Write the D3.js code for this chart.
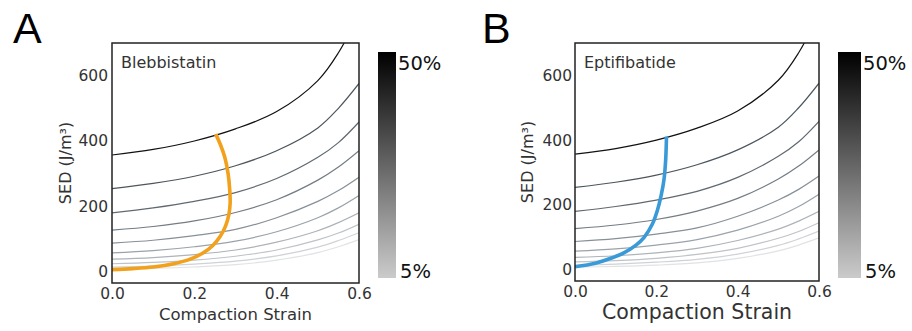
<!DOCTYPE html>
<html>
<head>
<meta charset="utf-8">
<script src="https://cdn.jsdelivr.net/npm/d3@7"></script>
<style>
  body { margin: 0; background: #fff; }
  svg text { font-family: "DejaVu Sans", sans-serif; }
</style>
</head>
<body>
<div id="chart"></div>
<script>
// strain grid shared by the background curves
const strains = [0, 0.1, 0.2, 0.3, 0.4, 0.5, 0.55, 0.6];

// fraction (%) for each background curve
const fractions = [5, 10, 15, 20, 25, 30, 35, 40, 45, 50];

// SED (J/m^3) of each background curve at the strains above
const sed05 = [8, 10, 14, 21, 35, 58, 76, 98];
const sed10 = [14, 17, 23, 32, 48, 75, 95, 119];
const sed15 = [24, 28, 35, 47, 66, 97, 118, 145];
const sed20 = [38, 43, 52, 66, 90, 125, 150, 180];
const sed25 = [57, 64, 76, 93, 122, 165, 195, 233];
const sed30 = [87, 96, 110, 129, 165, 215, 248, 289];
const sed35 = [127, 138, 155, 181, 220, 280, 320, 370];
const sed40 = [180, 195, 215, 242, 285, 350, 395, 458];
const sed45 = [254, 270, 292, 324, 370, 440, 500, 576];
const sed50 = [357, 374, 400, 437, 490, 585, 670, 790];

// measured paths [strain, SED]
const blebbistatin = [[0, 6], [0.05, 9], [0.1, 14], [0.15, 24], [0.19, 38], [0.22, 56],
  [0.245, 80], [0.263, 108], [0.276, 140], [0.284, 175], [0.287, 210], [0.286, 250],
  [0.282, 300], [0.274, 350], [0.263, 390], [0.252, 421]];
const eptifibatide = [[0, 9], [0.05, 20], [0.09, 36], [0.12, 52], [0.15, 76], [0.17, 100],
  [0.19, 140], [0.203, 185], [0.212, 230], [0.219, 280], [0.223, 340], [0.225, 411]];

const xTicks = [0, 0.2, 0.4, 0.6];
const yTicks = [0, 200, 400, 600];

const curves = [sed05, sed10, sed15, sed20, sed25, sed30, sed35, sed40, sed45, sed50];

const W = 912, H = 331;
const svg = d3.select("#chart").append("svg")
    .attr("width", W).attr("height", H);

const greyScale = d3.scaleLinear()
    .domain([5, 25, 45, 50])
    .range(["#e0e2e4", "#9aa3aa", "#4c565c", "#111111"]);

function drawPanel(opt) {
    const x = d3.scaleLinear().domain([0, 0.6]).range([opt.left, opt.right]);
    const y = d3.scaleLinear().domain([-35, 700]).range([opt.bottom, opt.top]);

    const clipId = "clip" + opt.letter;
    svg.append("clipPath").attr("id", clipId)
        .append("rect")
        .attr("x", opt.left).attr("y", opt.top)
        .attr("width", opt.right - opt.left).attr("height", opt.bottom - opt.top);

    const g = svg.append("g").attr("clip-path", `url(#${clipId})`);

    const line = d3.line()
        .x(d => x(d[0]))
        .y(d => y(d[1]))
        .curve(d3.curveCatmullRom.alpha(0.5));

    curves.forEach((vals, i) => {
        g.append("path")
            .datum(strains.map((s, j) => [s, vals[j]]))
            .attr("d", line)
            .attr("fill", "none")
            .attr("stroke", greyScale(fractions[i]))
            .attr("stroke-width", 1.2);
    });

    g.append("path")
        .datum(opt.data)
        .attr("d", line)
        .attr("fill", "none")
        .attr("stroke", opt.color)
        .attr("stroke-width", 3.6)
        .attr("stroke-linecap", "butt");

    // frame
    svg.append("rect")
        .attr("x", opt.left).attr("y", opt.top)
        .attr("width", opt.right - opt.left).attr("height", opt.bottom - opt.top)
        .attr("fill", "none").attr("stroke", "#222").attr("stroke-width", 1.5);

    // axes (labels only, no tick marks)
    const xAxis = svg.append("g")
        .attr("transform", `translate(0,${opt.bottom})`)
        .call(d3.axisBottom(x).tickValues(xTicks).tickSize(0).tickPadding(5)
            .tickFormat(d3.format(".1f")));
    const yAxis = svg.append("g")
        .attr("transform", `translate(${opt.left},0)`)
        .call(d3.axisLeft(y).tickValues(yTicks).tickSize(0).tickPadding(opt.yPad)
            .tickFormat(d3.format("d")));
    [xAxis, yAxis].forEach(a => {
        a.select(".domain").remove();
        a.selectAll("text")
            .attr("fill", "#333")
            .style("font-size", "15.5px")
            .style("font-family", "DejaVu Sans");
    });

    svg.append("text")
        .attr("x", (opt.left + opt.right) / 2)
        .attr("y", opt.xLabelY)
        .attr("text-anchor", "middle")
        .attr("fill", "#333")
        .style("font-size", opt.xLabelSize + "px")
        .text("Compaction Strain");

    svg.append("text")
        .attr("transform", `translate(${opt.yLabelX},${(opt.top + opt.bottom) / 2}) rotate(-90)`)
        .attr("text-anchor", "middle")
        .attr("fill", "#333")
        .style("font-size", "16px")
        .text("SED (J/m³)");

    svg.append("text")
        .attr("x", opt.left + 9)
        .attr("y", 68)
        .attr("fill", "#333")
        .style("font-size", "16px")
        .text(opt.label);

    svg.append("text")
        .attr("x", opt.letterX)
        .attr("y", 43)
        .attr("fill", "#000")
        .style("font-family", "Liberation Sans, Arial, sans-serif")
        .style("font-size", "43px")
        .text(opt.letter);

    // colorbar
    const gradId = "grad" + opt.letter;
    const grad = svg.append("defs").append("linearGradient")
        .attr("id", gradId)
        .attr("x1", 0).attr("y1", 1).attr("x2", 0).attr("y2", 0);
    grad.selectAll("stop")
        .data([5, 50])
        .enter().append("stop")
        .attr("offset", d => (d - 5) / 45)
        .attr("stop-color", d => d === 5 ? "#cbcbcb" : "#000");

    svg.append("rect")
        .attr("x", opt.cbX).attr("y", 52)
        .attr("width", opt.cbW).attr("height", 226)
        .attr("fill", `url(#${gradId})`);

    svg.append("text")
        .attr("x", opt.cbX + opt.cbW + 2).attr("y", 70)
        .attr("fill", "#111")
        .style("font-size", "19.5px")
        .text("50%");
    svg.append("text")
        .attr("x", opt.cbX + opt.cbW + 4).attr("y", 278)
        .attr("fill", "#111")
        .style("font-size", "19.5px")
        .text("5%");
}

drawPanel({
    letter: "A", letterX: 13, label: "Blebbistatin",
    left: 112, right: 359, top: 43, bottom: 283,
    data: blebbistatin, color: "#f2a11c",
    xLabelY: 320, xLabelSize: 16.5, yLabelX: 71, yPad: 4,
    cbX: 378, cbW: 18
});

drawPanel({
    letter: "B", letterX: 482, label: "Eptifibatide",
    left: 575, right: 819, top: 43, bottom: 281,
    data: eptifibatide, color: "#3a9ad8",
    xLabelY: 319, xLabelSize: 20.5, yLabelX: 533, yPad: 3,
    cbX: 838, cbW: 23
});
</script>
</body>
</html>
